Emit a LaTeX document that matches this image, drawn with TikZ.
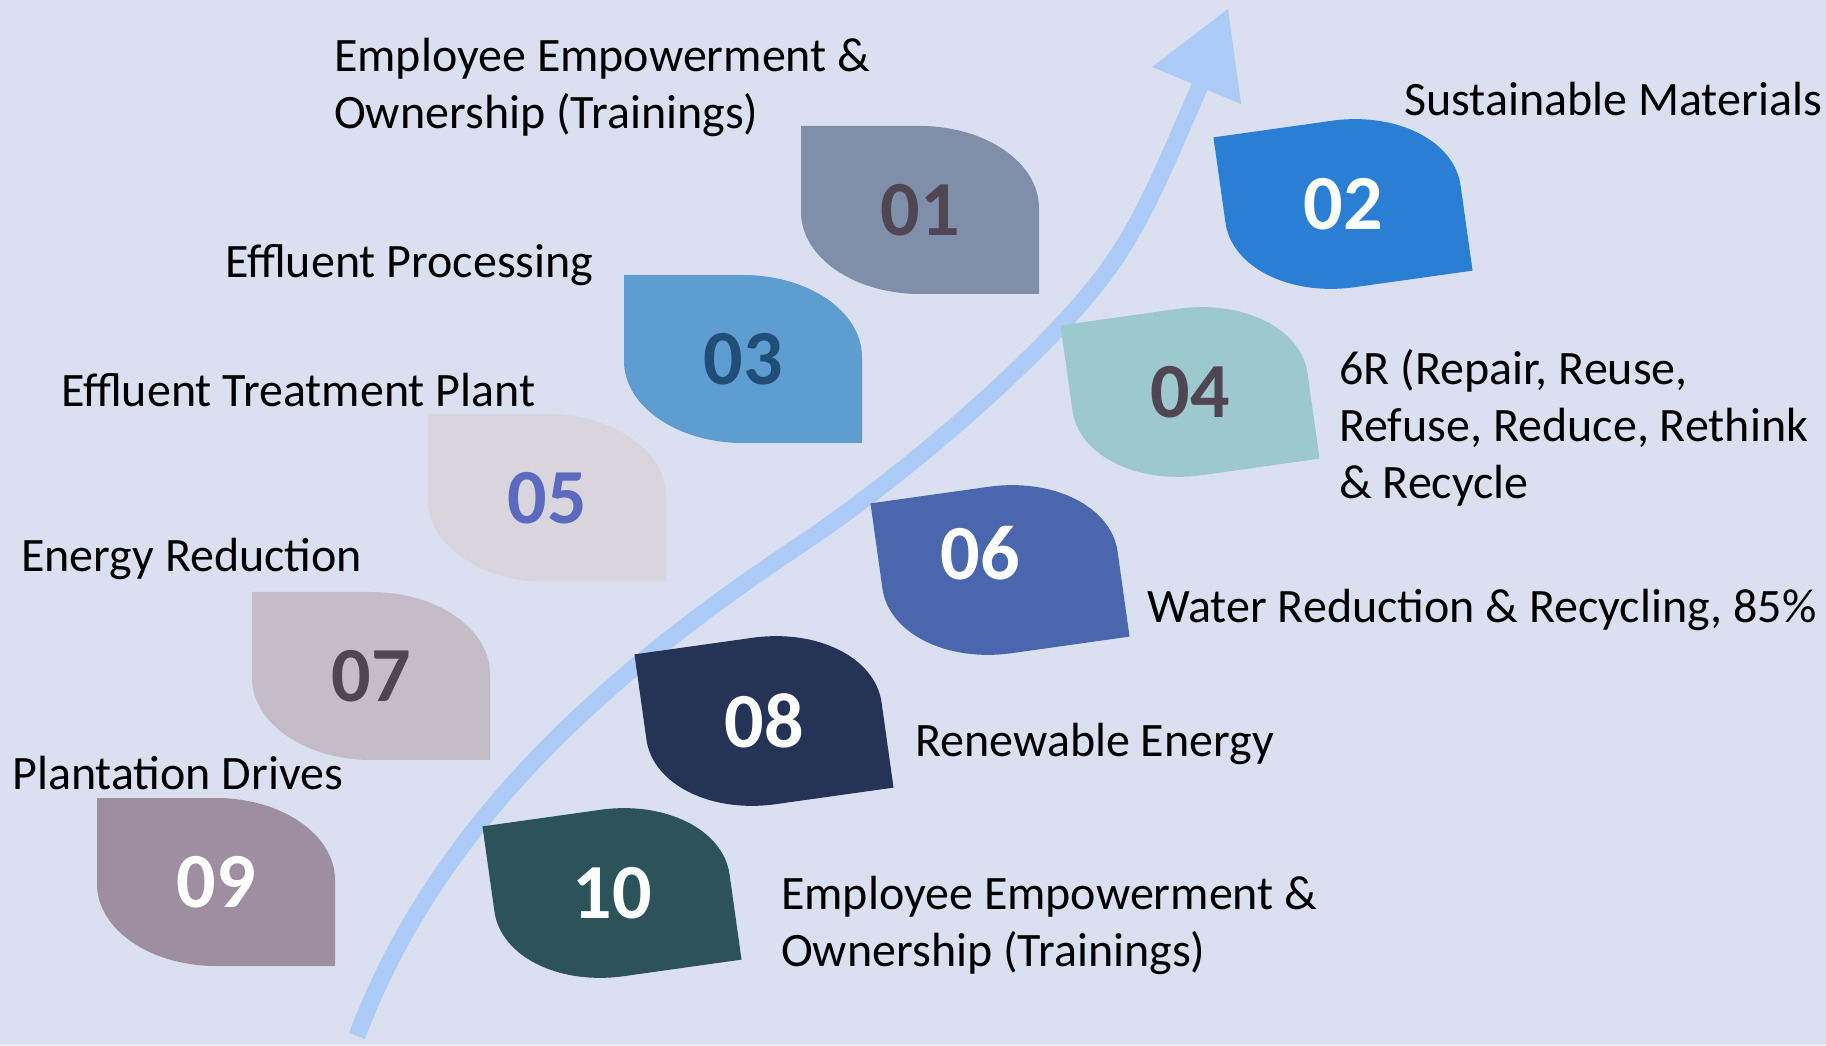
\documentclass[tikz,border=0pt]{standalone}
\usepackage{fontspec}
\setmainfont{Carlito}
\definecolor{bgc}{HTML}{DAE0F0}
\definecolor{arrowc}{HTML}{ADCBF7}
\definecolor{numdark}{HTML}{504552}
\definecolor{c01}{HTML}{7F8FA9}
\definecolor{c02}{HTML}{2A7FD5}
\definecolor{c03}{HTML}{5F9DD1}
\definecolor{n03}{HTML}{1F4E79}
\definecolor{c04}{HTML}{9DC8CE}
\definecolor{c05}{HTML}{D9D5DE}
\definecolor{n05}{HTML}{5B6ABF}
\definecolor{c06}{HTML}{4A67AD}
\definecolor{c07}{HTML}{C5BCCA}
\definecolor{c08}{HTML}{253357}
\definecolor{c09}{HTML}{9D8FA0}
\definecolor{c10}{HTML}{2C535A}
\tikzset{
  leaf/.pic={
    \path[pic actions] (-119,84) -- (0,84)
      arc[start angle=90,end angle=0,x radius=119,y radius=82] -- (119,-84) -- (0,-84)
      arc[start angle=270,end angle=180,x radius=119,y radius=82] -- cycle;
  },
  num/.style={inner sep=0pt, font=\fontsize{78}{90}\selectfont\bfseries},
  lbl/.style={inner sep=0pt, anchor=west, align=left, text=black, font=\fontsize{48}{57}\selectfont},
}
\begin{document}
\begin{tikzpicture}[x=1pt,y=1pt]
\fill[bgc] (0,0) rectangle (1826,1045);
\useasboundingbox (0,0) rectangle (1826,1045);
% arrow
\coordinate (a0) at (357,9);
\coordinate (a1) at (800,500);
\coordinate (a2) at (1100,765);
\coordinate (a3) at (1205,970);
\draw[arrowc, line width=17pt] (a0) .. controls (440,230) and (620,380) .. (a1)
  .. controls (905,570) and (1039,686) .. (a2)
  .. controls (1146,824) and (1173,900) .. (a3);
\fill[arrowc] (1228,1036) -- (1152,978) -- (1241,941) -- cycle;
% left shapes
\pic[fill=c01] at (920,835) {leaf};
\pic[fill=c03] at (743,686) {leaf};
\pic[fill=c05] at (547,547) {leaf};
\pic[fill=c07] at (371,369) {leaf};
\pic[fill=c09] at (216,163) {leaf};
% right shapes
\pic[fill=c02, rotate=8] at (1343,841) {leaf};
\pic[fill=c04, rotate=8] at (1190,653) {leaf};
\pic[fill=c06, rotate=8] at (1000,475) {leaf};
\pic[fill=c08, rotate=8] at (764,324) {leaf};
\pic[fill=c10, rotate=8] at (612,152) {leaf};
% numbers
\node[num, text=numdark] (n01) at (920,835) {01};
\node[num, text=white] (n02) at (1343,841) {02};
\node[num, text=n03] (n03) at (743,686) {03};
\node[num, text=numdark] (n04) at (1190,653) {04};
\node[num, text=n05] (n05) at (547,547) {05};
\node[num, text=white] (n06) at (980,492) {06};
\node[num, text=numdark] (n07) at (371,369) {07};
\node[num, text=white] (n08) at (764,324) {08};
\node[num, text=white] (n09) at (216,163) {09};
\node[num, text=white] (n10) at (612,152) {10};
% labels
\node[lbl] (t01) at (334,958) {Employee Empowerment \&\\Ownership (Trainings)};
\node[lbl] (t02) at (1404,946) {Sustainable Materials};
\node[lbl] (t03) at (225,780) {Effluent Processing};
\node[lbl] (t04) at (1339,617) {6R (Repair, Reuse,\\Refuse, Reduce, Rethink\\\& Recycle};
\node[lbl] (t05) at (61,655) {Effluent Treatment Plant};
\node[lbl] (t06) at (1147,435) {Water Reduction \& Recycling, 85\%};
\node[lbl] (t07) at (21,486) {Energy Reduction};
\node[lbl] (t08) at (915,301) {Renewable Energy};
\node[lbl] (t09) at (12,272) {Plantation Drives};
\node[lbl] (t10) at (781,120) {Employee Empowerment \&\\Ownership (Trainings)};
\end{tikzpicture}
\end{document}
